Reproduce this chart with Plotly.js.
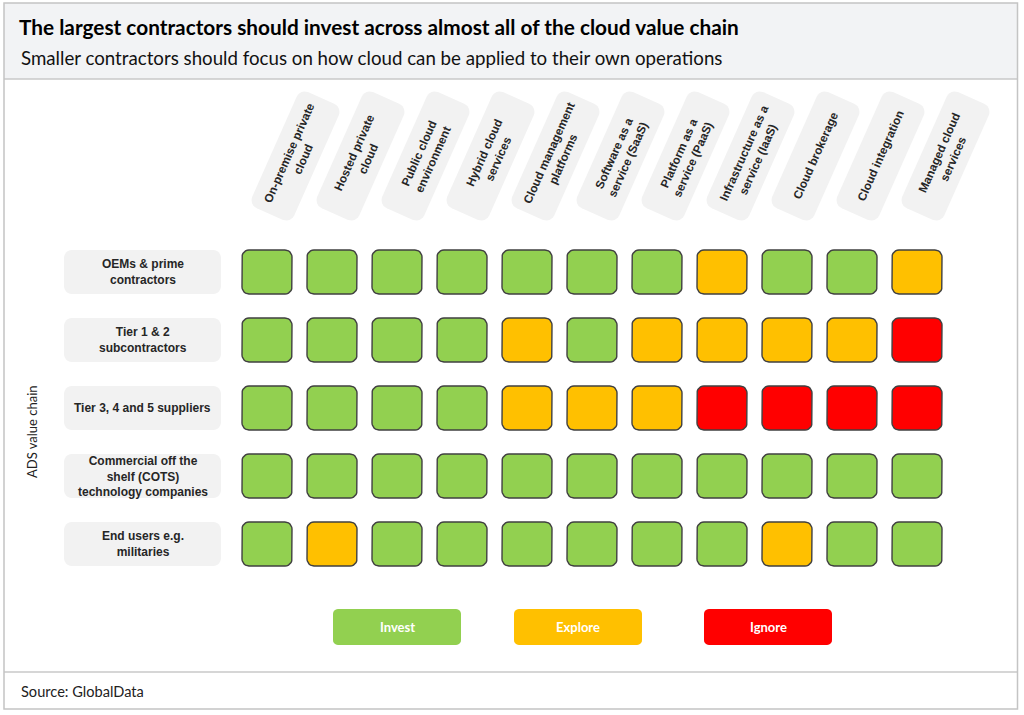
<!DOCTYPE html>
<html>
<head>
<meta charset="utf-8">
<script src="https://cdn.plot.ly/plotly-3.0.1.min.js"></script>
<style>html,body{margin:0;padding:0;background:#fff;}#chart{width:1024px;height:715px;}</style>
</head>
<body>
<div id="chart"></div>
<script>
// ---------- DATA ----------
const columns = [
  'On-premise private<br>cloud',
  'Hosted private<br>cloud',
  'Public cloud<br>environment',
  'Hybrid cloud<br>services',
  'Cloud management<br>platforms',
  'Software as a<br>service (SaaS)',
  'Platform as a<br>service (PaaS)',
  'Infrastructure as a<br>service (IaaS)',
  'Cloud brokerage',
  'Cloud integration',
  'Managed cloud<br>services'
];
const rows = [
  'OEMs & prime<br>contractors',
  'Tier 1 & 2<br>subcontractors',
  'Tier 3, 4 and 5 suppliers',
  'Commercial off the<br>shelf (COTS)<br>technology companies',
  'End users e.g.<br>militaries'
];
// I = Invest, E = Explore, X = Ignore
const row_oems     = ['I','I','I','I','I','I','I','E','I','I','E'];
const row_tier12   = ['I','I','I','I','E','I','E','E','E','E','X'];
const row_tier345  = ['I','I','I','I','E','E','E','X','X','X','X'];
const row_cots     = ['I','I','I','I','I','I','I','I','I','I','I'];
const row_endusers = ['I','E','I','I','I','I','I','I','E','I','I'];
const ratings = [row_oems, row_tier12, row_tier345, row_cots, row_endusers];

const statusCodes  = ['I','E','X'];
const statusNames  = ['Invest','Explore','Ignore'];
const statusColors = ['#92d050','#ffc000','#ff0000'];

const yAxisTitle = 'ADS value chain';
const titleText = 'The largest contractors should invest across almost all of the cloud value chain';
const subtitleText = 'Smaller contractors should focus on how cloud can be applied to their own operations';
const sourceText = 'Source: GlobalData';

// ---------- LAYOUT GEOMETRY ----------
const W = 1024, H = 715;
const COL_PX = 65, ROW_PX = 68;      // pixels per category step
const COL0_PX = 267, ROW0_PX = 272;  // pixel position of first column / row
const xRange = [-COL0_PX / COL_PX, (W - COL0_PX) / COL_PX];
const yRange = [(H - ROW0_PX) / ROW_PX, -ROW0_PX / ROW_PX];

// rounded (optionally rotated) rectangle in data units; sizes in pixels
function rrPoints(cx, cy, w, h, r, angDeg) {
  const pts = [];
  const a = (angDeg || 0) * Math.PI / 180;
  const corners = [
    [w/2 - r, -h/2 + r, -90],
    [w/2 - r,  h/2 - r,   0],
    [-w/2 + r, h/2 - r,  90],
    [-w/2 + r,-h/2 + r, 180]
  ];
  corners.forEach(c => {
    for (let k = 0; k <= 6; k++) {
      const t = (c[2] + k * 15) * Math.PI / 180;
      const px = c[0] + r * Math.cos(t);
      const py = c[1] + r * Math.sin(t);
      const rx = px * Math.cos(a) - py * Math.sin(a);
      const ry = px * Math.sin(a) + py * Math.cos(a);
      pts.push([cx + rx / COL_PX, cy + ry / ROW_PX]);
    }
  });
  return pts;
}
function rrPath(cx, cy, w, h, r, ang) {
  const p = rrPoints(cx, cy, w, h, r, ang);
  return 'M' + p.map(q => q[0].toFixed(4) + ',' + q[1].toFixed(4)).join('L') + 'Z';
}

// ---------- TRACES (cells) ----------
const traces = statusCodes.map((code, s) => {
  const xs = [], ys = [], txt = [];
  ratings.forEach((rowVals, ri) => {
    rowVals.forEach((v, ci) => {
      if (v !== code) return;
      const p = rrPoints(ci, ri, 50, 44, 7, 0);
      p.push(p[0]);
      p.forEach(q => { xs.push(q[0]); ys.push(q[1]); txt.push(rows[ri].replace(/<br>/g,' ') + ' / ' + columns[ci].replace(/<br>/g,' ')); });
      xs.push(null); ys.push(null); txt.push(null);
    });
  });
  return {
    type: 'scatter', mode: 'lines', x: xs, y: ys, text: txt,
    name: statusNames[s], fill: 'toself', fillcolor: statusColors[s],
    line: {color: '#404040', width: 1.4}, hoverinfo: 'text+name', showlegend: false
  };
});

// ---------- SHAPES & ANNOTATIONS ----------
const shapes = [];
const annotations = [];
const px2fx = px => px / W;
const py2fy = py => 1 - py / H;

// header band and frame
shapes.push({type:'rect', xref:'paper', yref:'paper', x0:px2fx(4), x1:px2fx(1017), y0:py2fy(79), y1:py2fy(3),
  fillcolor:'#f2f3f5', line:{width:0}, layer:'below'});
shapes.push({type:'line', xref:'paper', yref:'paper', x0:px2fx(4), x1:px2fx(1017), y0:py2fy(79), y1:py2fy(79),
  line:{color:'#c8c8c8', width:1.5}});
shapes.push({type:'line', xref:'paper', yref:'paper', x0:px2fx(4), x1:px2fx(1017), y0:py2fy(672), y1:py2fy(672),
  line:{color:'#c8c8c8', width:1.5}});
shapes.push({type:'rect', xref:'paper', yref:'paper', x0:px2fx(4), x1:px2fx(1017.5), y0:py2fy(709), y1:py2fy(3),
  fillcolor:'rgba(0,0,0,0)', line:{color:'#c4c4c4', width:1.5}});

// row label boxes
const rowBoxCol = (142.5 - COL0_PX) / COL_PX;
rows.forEach((lab, ri) => {
  shapes.push({type:'path', xref:'x', yref:'y', path: rrPath(rowBoxCol, ri, 157, 44, 8, 0),
    fillcolor:'#f2f2f2', line:{width:0}, layer:'below'});
  annotations.push({xref:'x', yref:'y', x: rowBoxCol, y: ri, text: '<b>' + lab + '</b>', showarrow:false,
    xanchor:'center', yanchor:'middle', align:'center',
    font:{family:'Liberation Sans, Arial, sans-serif', size:12, color:'#262626'}});
});

// column header boxes (rotated)
const headAng = -66;
const headRow = (156 - ROW0_PX) / ROW_PX;
const headOff = 28.5 / COL_PX;
columns.forEach((lab, ci) => {
  shapes.push({type:'path', xref:'x', yref:'y', path: rrPath(ci + headOff, headRow, 127, 46, 9, headAng),
    fillcolor:'#f2f2f2', line:{width:0}, layer:'below'});
  annotations.push({xref:'x', yref:'y', x: ci + headOff, y: headRow, text: '<b>' + lab + '</b>', showarrow:false,
    xanchor:'center', yanchor:'middle', align:'center', textangle: headAng,
    font:{family:'Liberation Sans, Arial, sans-serif', size:11.8, color:'#262626'}});
});

// legend buttons
const legendCentersPx = [397, 578, 768];
statusNames.forEach((nm, s) => {
  const cx = (legendCentersPx[s] - COL0_PX) / COL_PX, cy = (627 - ROW0_PX) / ROW_PX;
  shapes.push({type:'path', xref:'x', yref:'y', path: rrPath(cx, cy, 128, 36, 5, 0),
    fillcolor: statusColors[s], line:{width:0}, layer:'below'});
  annotations.push({xref:'x', yref:'y', x: cx, y: cy, text:'<b>' + nm + '</b>', showarrow:false,
    xanchor:'center', yanchor:'middle', font:{family:'Lato, sans-serif', size:13, color:'#ffffff'}});
});

// subtitle, axis label, source
annotations.push({xref:'paper', yref:'paper', x:px2fx(19), y:py2fy(58), text: subtitleText, showarrow:false,
  xanchor:'left', yanchor:'middle', font:{family:'Lato, sans-serif', size:18.7, color:'#111'}});
annotations.push({xref:'paper', yref:'paper', x:px2fx(32), y:py2fy(432), text: yAxisTitle, showarrow:false,
  textangle:-90, xanchor:'center', yanchor:'middle', font:{family:'Lato, sans-serif', size:13, color:'#222'}});
annotations.push({xref:'paper', yref:'paper', x:px2fx(19), y:py2fy(691), text: sourceText, showarrow:false,
  xanchor:'left', yanchor:'middle', font:{family:'Lato, sans-serif', size:14.6, color:'#222'}});

const layout = {
  width: W, height: H,
  margin: {l:0, r:0, t:0, b:0, pad:0},
  paper_bgcolor: '#ffffff', plot_bgcolor: 'rgba(0,0,0,0)',
  title: {text: '<b>' + titleText + '</b>', x: px2fx(19), xanchor:'left', xref:'paper',
          y: py2fy(28), yanchor:'middle', yref:'container',
          font:{family:'Lato, sans-serif', size:20.8, color:'#000'}},
  xaxis: {range: xRange, visible:false, fixedrange:true},
  yaxis: {range: yRange, visible:false, fixedrange:true},
  showlegend: false,
  shapes: shapes,
  annotations: annotations,
  hovermode: 'closest'
};

Plotly.newPlot('chart', traces, layout, {displayModeBar:false, staticPlot:false});
</script>
</body>
</html>
